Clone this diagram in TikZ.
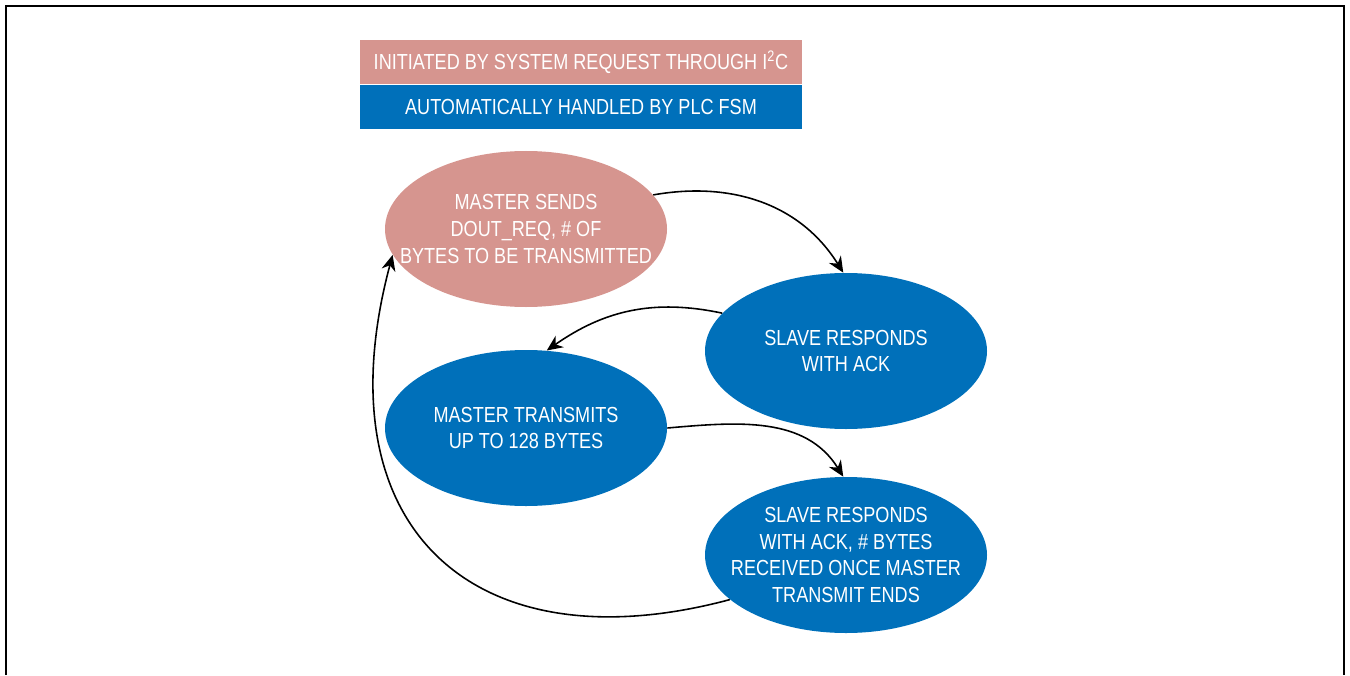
\documentclass[tikz,border=0pt]{standalone}
\usepackage{fontspec}
\setmainfont{Liberation Sans}[FakeStretch=0.83]
\usepackage{tikz}
\usetikzlibrary{positioning,shapes.geometric,arrows.meta}

\begin{document}
\begin{tikzpicture}[auto,
    state_node/.style={ellipse,inner xsep=-1cm,inner ysep=-0.5cm,minimum width=5.64cm,minimum height=3.12cm,align=center,text=white,font=\fontsize{12.4}{15.3}\selectfont},
    legend_box/.style={rectangle,inner sep=0,minimum width=8.84cm,minimum height=0.88cm,text=white,font=\fontsize{12.4}{15.3}\selectfont},
    flow/.style={line width=0.9pt,-{Stealth[length=9pt,width=8pt]}}]
    \definecolor{color_req}{rgb}{0.839, 0.584, 0.561}
    \definecolor{color_fsm}{rgb}{0, 0.439, 0.729}
    \useasboundingbox (0,0) rectangle (27,13.5);
    \draw[line width=0.8pt] (0.12,0) -- (0.12,13.38) -- (26.88,13.38) -- (26.88,0);

    \node[legend_box,fill=color_req] (legend_sys) at (11.62,12.26) {INITIATED BY SYSTEM REQUEST THROUGH I\textsuperscript{2}C};
    \node[legend_box,fill=color_fsm,below=0 of legend_sys] (legend_fsm) {AUTOMATICALLY HANDLED BY PLC FSM};

    \node[state_node,fill=color_req] (master_req) at (10.52,8.92) {MASTER SENDS\\DOUT\_REQ, \# OF\\BYTES TO BE TRANSMITTED};
    \node[state_node,fill=color_fsm] (slave_ack) at (16.92,6.48) {SLAVE RESPONDS\\WITH ACK};
    \node[state_node,fill=color_fsm] (master_tx) at (10.52,4.94) {MASTER TRANSMITS\\UP TO 128 BYTES};
    \node[state_node,fill=color_fsm] (slave_count) at (16.92,2.40) {SLAVE RESPONDS\\WITH ACK, \# BYTES\\RECEIVED ONCE MASTER\\TRANSMIT ENDS};

    \draw[flow] (master_req.15) to[out=10,in=122] (slave_ack.92);
    \draw[flow] (slave_ack.163) to[out=168,in=35] (master_tx.75);
    \draw[flow] (master_tx.east) to[out=5,in=122] (slave_count.92);
    \draw[flow] (slave_count.201) to[out=195,in=255,out looseness=1.4,in looseness=1.5] (master_req.191);

  \end{tikzpicture}
\end{document}
